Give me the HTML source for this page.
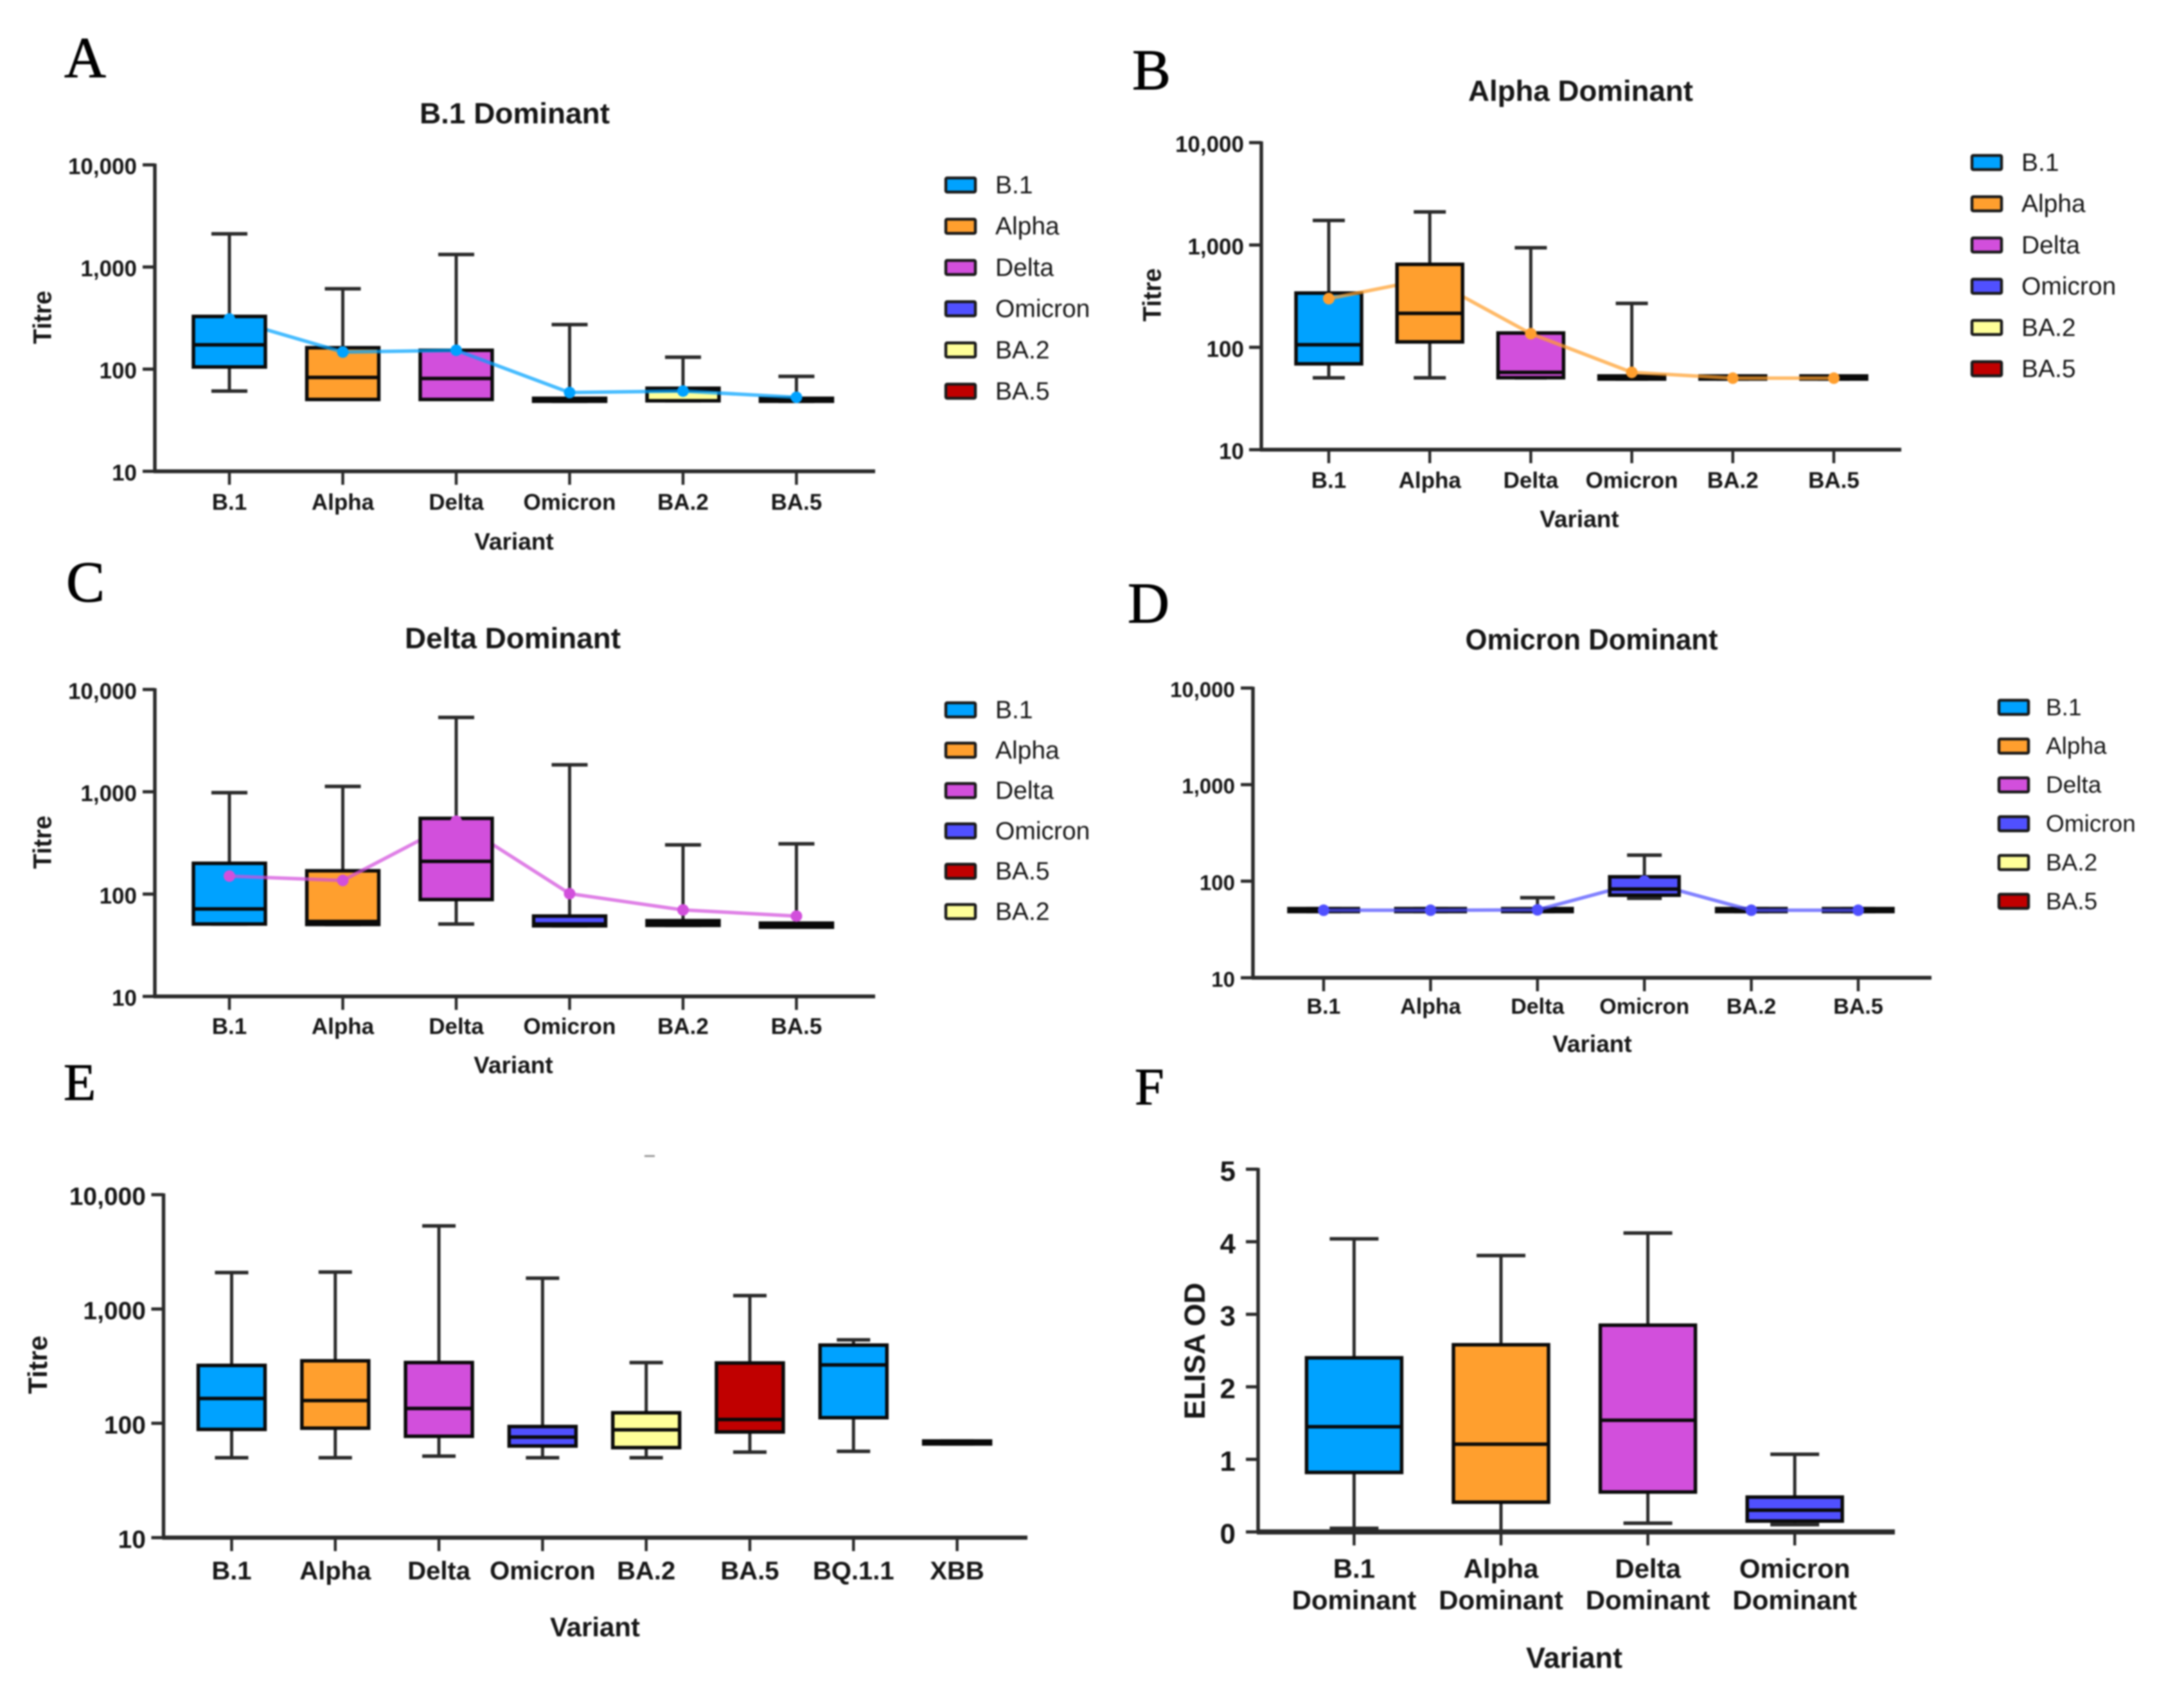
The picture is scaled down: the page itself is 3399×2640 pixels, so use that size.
<!DOCTYPE html>
<html lang="en">
<head>
<meta charset="utf-8">
<title>Variant titre panels</title>
<style>
html,body{margin:0;padding:0;background:#fff;width:3399px;height:2640px;overflow:hidden}
svg{display:block;filter:blur(1.4px)}
text{font-family:"Liberation Sans",sans-serif;fill:#161616}
</style>
</head>
<body>
<svg id="figure" xmlns="http://www.w3.org/2000/svg" width="3399" height="2640" viewBox="0 0 3399 2640">
<rect width="3399" height="2640" fill="#ffffff"/>
<rect x="1003" y="1798" width="16" height="3" fill="#999999"/>
</svg>
<script>
// ---- Shared tick data ----
const logTicks = [10, 100, 1000, 10000];
const logTickLabels = ['10', '100', '1,000', '10,000'];
const elisaTicks = [0, 1, 2, 3, 4, 5];
const elisaTickLabels = ['0', '1', '2', '3', '4', '5'];

// ---- Panel A ----
const aCategories = ['B.1', 'Alpha', 'Delta', 'Omicron', 'BA.2', 'BA.5'];
const aLegend = ['B.1', 'Alpha', 'Delta', 'Omicron', 'BA.2', 'BA.5'];
const aHigh = [2113, 612, 1327, 273, 131, 85];
const aQ3 = [328, 162, 153, 51.8, 65, 51.8];
const aMedian = [173, 83, 81, 50, 62, 50];
const aQ1 = [105, 50.5, 50.5, 48.5, 49, 48.5];
const aLow = [61, 50.5, 50.5, 48.5, 49, 48.5];
const aMean = [310, 147, 153, 59, 61, 53];

// ---- Panel B ----
const bCategories = ['B.1', 'Alpha', 'Delta', 'Omicron', 'BA.2', 'BA.5'];
const bLegend = ['B.1', 'Alpha', 'Delta', 'Omicron', 'BA.2', 'BA.5'];
const bHigh = [1738, 2102, 940, 269, 52.5, 52.5];
const bQ3 = [339, 647, 138, 52.5, 52.5, 52.5];
const bMedian = [106, 215, 57, 50, 50, 50];
const bQ1 = [69, 113, 50.5, 49, 49, 49];
const bLow = [50.4, 50.4, 50.4, 49, 49, 49];
const bMean = [299, 470, 136, 57, 50, 50];

// ---- Panel C ----
const cCategories = ['B.1', 'Alpha', 'Delta', 'Omicron', 'BA.2', 'BA.5'];
const cLegend = ['B.1', 'Alpha', 'Delta', 'Omicron', 'BA.5', 'BA.2'];
const cHigh = [981, 1130, 5333, 1838, 303, 310];
const cQ3 = [200, 169, 550, 61, 55, 52];
const cMedian = [71.6, 54, 209, 51, 52, 49.5];
const cQ1 = [51, 50.5, 88.5, 49, 49.5, 47.5];
const cLow = [51, 50.5, 51, 49, 49.5, 47.5];
const cMean = [150, 136, 516, 101, 70, 61];

// ---- Panel D ----
const dCategories = ['B.1', 'Alpha', 'Delta', 'Omicron', 'BA.2', 'BA.5'];
const dLegend = ['B.1', 'Alpha', 'Delta', 'Omicron', 'BA.2', 'BA.5'];
const dHigh = [52, 52, 67.5, 186, 52, 52];
const dQ3 = [52, 52, 52, 111, 52, 52];
const dMedian = [50, 50, 50, 83, 50, 50];
const dQ1 = [48.5, 48.5, 48.5, 71.6, 48.5, 48.5];
const dLow = [48.5, 48.5, 48.5, 66.5, 48.5, 48.5];
const dMean = [50, 50, 50.5, 100, 50, 50];

// ---- Panel E ----
const eCategories = ['B.1', 'Alpha', 'Delta', 'Omicron', 'BA.2', 'BA.5', 'BQ.1.1', 'XBB'];
const eHigh = [2084, 2103, 5333, 1860, 340, 1309, 537, 70];
const eQ3 = [321, 352, 340, 93.7, 123.6, 337, 483, 70];
const eMedian = [165, 158, 135, 75.8, 87.7, 108, 324, 68];
const eQ1 = [88.5, 90.7, 77, 63.3, 61.3, 84, 112, 66];
const eLow = [50, 50, 51.6, 50, 50, 56, 56.9, 66];

// ---- Panel F ----
const fCategories = ['B.1', 'Alpha', 'Delta', 'Omicron'];
const fHigh = [4.04, 3.81, 4.12, 1.07];
const fQ3 = [2.40, 2.58, 2.85, 0.48];
const fMedian = [1.45, 1.21, 1.54, 0.30];
const fQ1 = [0.82, 0.41, 0.55, 0.15];
const fLow = [0.05, 0, 0.12, 0.10];

// ---- Styling ----
const boxColors = {'B.1':'#00a2ff','Alpha':'#ff9f2e','Delta':'#d24fdc','Omicron':'#5050ff','BA.2':'#ffff99','BA.5':'#c00000','BQ.1.1':'#00a2ff','XBB':'#00a2ff'};
const INK = '#0a0a0a';
const AXIS = '#2a2a2a';
const svg = document.getElementById('figure');
const NS = 'http://www.w3.org/2000/svg';

function make(tag, attrs, parent) {
  const el = document.createElementNS(NS, tag);
  for (const k in attrs) el.setAttribute(k, attrs[k]);
  (parent || svg).appendChild(el);
  return el;
}
function write(parent, str, x, yc, size, opts) {
  opts = opts || {};
  const a = {x: x, y: yc + size * 0.36, 'font-size': size, 'font-weight': opts.weight || 'bold', 'text-anchor': opts.anchor || 'middle'};
  if (opts.style) a.style = opts.style;
  if (opts.fill) a.fill = opts.fill;
  if (opts.length) { a.textLength = opts.length; a.lengthAdjust = 'spacingAndGlyphs'; }
  if (opts.rotate) { a.x = 0; a.y = size * 0.36; a.transform = 'translate(' + x + ' ' + yc + ') rotate(-90)'; }
  const t = make('text', a, parent);
  t.textContent = str;
  return t;
}
function seg(parent, x1, y1, x2, y2, w, color) {
  return make('line', {x1: x1, y1: y1, x2: x2, y2: y2, stroke: color || AXIS, 'stroke-width': w}, parent);
}

function drawPanel(p) {
  const g = make('g', {});
  
  

  const letter = write(g, p.letter, p.letterX, p.letterY - p.letterSize * 0.36, p.letterSize, {weight: 'normal', anchor: 'start', style: 'font-family:"Liberation Serif",serif;fill:#000;stroke:#000;stroke-width:1'});
  
  

  // axis functions
  const yOf = p.log
    ? function (v) { return p.yBottom - (Math.log10(v) - 1) / 3 * (p.yBottom - p.yTop); }
    : function (v) { return p.yBottom - v / p.yMax * (p.yBottom - p.yTop); };
  const xOf = function (i) { return p.xFirst + i * p.xStep; };

  // y axis
  const yAxis = seg(g, p.axisX, p.yTop - 2, p.axisX, p.yBottom + 2, p.axisW);
  
  
  const xAxis = seg(g, p.axisX - 2, p.yBottom, p.xEnd, p.yBottom, p.xAxisW);
  
  

  p.ticks.forEach(function (tv, i) {
    const ty = yOf(tv);
    const tick = seg(g, p.axisX - 19, ty, p.axisX, ty, 5);
    
    
    const lab = write(g, p.tickLabels[i], p.tickRight, ty + 2, p.tickSize, {anchor: 'end'});
    
    
  });

  p.cats.forEach(function (c, i) {
    const tick = seg(g, xOf(i), p.yBottom, xOf(i), p.yBottom + 21, 4.5);
    
    
    const lines = p.catLabels ? p.catLabels[i] : [c];
    lines.forEach(function (ln, k) {
      const lab = write(g, ln, xOf(i), p.catLabelY + k * p.catLineGap, p.catSize);
      
      
    });
  });

  // boxes
  function drawBox(i) {
    const c = p.cats[i];
    const box = make('g', {}, g);
    
    
    const x = xOf(i);
    seg(box, x, yOf(p.high[i]), x, yOf(p.q3[i]), 5);
    seg(box, x, yOf(p.q1[i]), x, yOf(p.low[i]), 5);
    seg(box, x - p.capW, yOf(p.high[i]), x + p.capW, yOf(p.high[i]), 5.5);
    seg(box, x - p.capW, yOf(p.low[i]), x + p.capW, yOf(p.low[i]), 5.5);
    const top = yOf(p.q3[i]), bot = yOf(p.q1[i]);
    make('rect', {x: x - p.boxW, y: top, width: 2 * p.boxW, height: Math.max(bot - top, 0.5), fill: boxColors[c], stroke: INK, 'stroke-width': 5.5}, box);
    seg(box, x - p.boxW, yOf(p.median[i]), x + p.boxW, yOf(p.median[i]), 5.5, INK);
  }
  const dom = p.dominant === undefined ? -1 : p.dominant;
  p.cats.forEach(function (c, i) { if (i !== dom) drawBox(i); });

  // mean trace
  if (p.mean) {
    const col = boxColors[p.cats[dom]];
    const pts = p.mean.map(function (v, i) { return xOf(i) + ',' + yOf(v); }).join(' ');
    const trace = make('polyline', {points: pts, fill: 'none', stroke: col, 'stroke-opacity': 0.72, 'stroke-width': 5.5, 'stroke-linejoin': 'round'}, g);
    
    
    drawBox(dom);
    p.mean.forEach(function (v, i) {
      const dot = make('circle', {cx: xOf(i), cy: yOf(v), r: 9, fill: col}, g);
      
      
    });
  }

  // titles
  if (p.title) {
    const t = write(g, p.title, p.titleX, p.titleY, 45, {length: p.titleLen});
    
    
  }
  const xt = write(g, 'Variant', p.xTitleX, p.xTitleY, p.xTitleSize);
  
  
  if (p.yTitle) {
    const yt = write(g, p.yTitle, p.yTitleX, p.yTitleY, p.yTitleSize, {rotate: true, length: p.yTitleLen});
    
    
  }

  // legend
  if (p.legend) {
    p.legend.forEach(function (name, i) {
      const ly = p.legendY + i * p.legendStep;
      const entry = make('g', {}, g);
      
      
      make('rect', {x: p.legendX, y: ly - 11, width: 46, height: 22, rx: 2, fill: boxColors[name], stroke: '#1a1a1a', 'stroke-width': 4.5}, entry);
      write(entry, name, p.legendTextX, ly - 1, p.legendSize, {weight: 'normal', anchor: 'start', fill: '#2c2c2c'});
    });
  }
}

drawPanel({id:'a', letter:'A', letterX:100, letterY:120, letterSize:90, log:true, ticks:logTicks, tickLabels:logTickLabels,
  axisX:241, yTop:256.6, yBottom:733.6, xEnd:1362, axisW:5.5, xAxisW:6, xFirst:357, xStep:176.5, boxW:56, capW:28,
  tickRight:213, tickSize:35, catLabelY:781, catSize:35, catLineGap:0,
  cats:aCategories, high:aHigh, q3:aQ3, median:aMedian, q1:aQ1, low:aLow, mean:aMean, dominant:0,
  title:'B.1 Dominant', titleX:801, titleY:176, titleLen:296, xTitleX:800, xTitleY:842, xTitleSize:37,
  yTitle:'Titre', yTitleX:65, yTitleY:494, yTitleSize:40, yTitleLen:83,
  legend:aLegend, legendX:1472, legendY:288, legendStep:64.2, legendTextX:1549, legendSize:39});

drawPanel({id:'b', letter:'B', letterX:1762, letterY:139, letterSize:90, log:true, ticks:logTicks, tickLabels:logTickLabels,
  axisX:1963, yTop:222, yBottom:700, xEnd:2959, axisW:5.5, xAxisW:6, xFirst:2068, xStep:157.2, boxW:51, capW:25,
  tickRight:1936, tickSize:35, catLabelY:747, catSize:35, catLineGap:0,
  cats:bCategories, high:bHigh, q3:bQ3, median:bMedian, q1:bQ1, low:bLow, mean:bMean, dominant:1,
  title:'Alpha Dominant', titleX:2460, titleY:141, titleLen:350, xTitleX:2458, xTitleY:807, xTitleSize:37,
  yTitle:'Titre', yTitleX:1792, yTitleY:459, yTitleSize:40, yTitleLen:83,
  legend:bLegend, legendX:3069, legendY:253, legendStep:64.2, legendTextX:3146, legendSize:39});

drawPanel({id:'c', letter:'C', letterX:103, letterY:936, letterSize:90, log:true, ticks:logTicks, tickLabels:logTickLabels,
  axisX:241, yTop:1073.3, yBottom:1551, xEnd:1362, axisW:5.5, xAxisW:6, xFirst:357, xStep:176.5, boxW:56, capW:28,
  tickRight:213, tickSize:35, catLabelY:1597, catSize:35, catLineGap:0,
  cats:cCategories, high:cHigh, q3:cQ3, median:cMedian, q1:cQ1, low:cLow, mean:cMean, dominant:2,
  title:'Delta Dominant', titleX:798, titleY:993, titleLen:336, xTitleX:799, xTitleY:1657, xTitleSize:37,
  yTitle:'Titre', yTitleX:65, yTitleY:1311, yTitleSize:40, yTitleLen:83,
  legend:cLegend, legendX:1472, legendY:1105, legendStep:62.8, legendTextX:1549, legendSize:39});

drawPanel({id:'d', letter:'D', letterX:1755, letterY:969, letterSize:90, log:true, ticks:logTicks, tickLabels:logTickLabels,
  axisX:1950, yTop:1071, yBottom:1522, xEnd:3006, axisW:5.5, xAxisW:6, xFirst:2060, xStep:166.4, boxW:54, capW:27,
  tickRight:1922, tickSize:33, catLabelY:1566, catSize:34, catLineGap:0,
  cats:dCategories, high:dHigh, q3:dQ3, median:dMedian, q1:dQ1, low:dLow, mean:dMean, dominant:3,
  title:'Omicron Dominant', titleX:2477, titleY:995, titleLen:393, xTitleX:2478, xTitleY:1624, xTitleSize:37,
  legend:dLegend, legendX:3111, legendY:1101, legendStep:60.4, legendTextX:3184, legendSize:37});

drawPanel({id:'e', letter:'E', letterX:99, letterY:1712, letterSize:82, log:true, ticks:logTicks, tickLabels:logTickLabels,
  axisX:254.5, yTop:1859.6, yBottom:2393.5, xEnd:1599, axisW:5.5, xAxisW:6.5, xFirst:360.5, xStep:161.3, boxW:52, capW:26,
  tickRight:227, tickSize:39, catLabelY:2444, catSize:40, catLineGap:0,
  cats:eCategories, high:eHigh, q3:eQ3, median:eMedian, q1:eQ1, low:eLow,
  xTitleX:926, xTitleY:2532, xTitleSize:42,
  yTitle:'Titre', yTitleX:58, yTitleY:2124.5, yTitleSize:42, yTitleLen:91});

drawPanel({id:'f', letter:'F', letterX:1766, letterY:1719, letterSize:82, log:false, yMax:5, ticks:elisaTicks, tickLabels:elisaTickLabels,
  axisX:1958, yTop:1820, yBottom:2384.6, xEnd:2949, axisW:5.5, xAxisW:8, xFirst:2107.4, xStep:228.6, boxW:74, capW:38,
  tickRight:1923, tickSize:44, catLabelY:2441, catSize:42, catLineGap:49,
  cats:fCategories,
  catLabels:[['B.1','Dominant'],['Alpha','Dominant'],['Delta','Dominant'],['Omicron','Dominant']],
  high:fHigh, q3:fQ3, median:fMedian, q1:fQ1, low:fLow,
  xTitleX:2450, xTitleY:2580, xTitleSize:45,
  yTitle:'ELISA OD', yTitleX:1859, yTitleY:2103, yTitleSize:45, yTitleLen:213});
</script>
</body>
</html>
